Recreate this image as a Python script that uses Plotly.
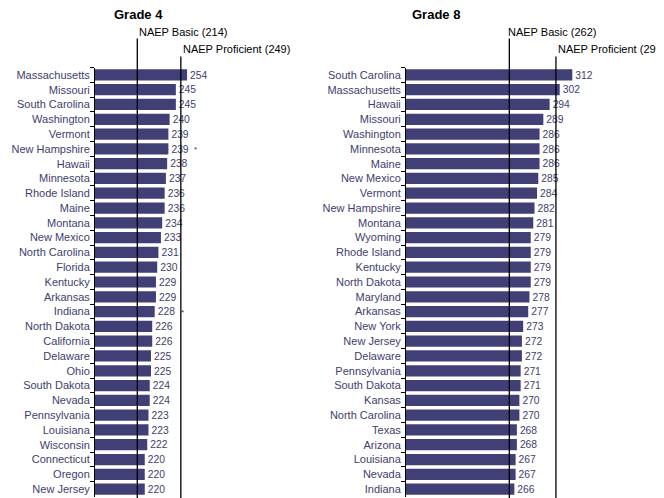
import plotly.graph_objects as go

grade4_states = ["Massachusetts", "Missouri", "South Carolina", "Washington", "Vermont",
                 "New Hampshire", "Hawaii", "Minnesota", "Rhode Island", "Maine", "Montana",
                 "New Mexico", "North Carolina", "Florida", "Kentucky", "Arkansas", "Indiana",
                 "North Dakota", "California", "Delaware", "Ohio", "South Dakota", "Nevada",
                 "Pennsylvania", "Louisiana", "Wisconsin", "Connecticut", "Oregon", "New Jersey"]
grade4_scores = [254, 245, 245, 240, 239, 239, 238, 237, 236, 236, 234, 233, 231, 230, 229,
                 229, 228, 226, 226, 225, 225, 224, 224, 223, 223, 222, 220, 220, 220]

grade8_states = ["South Carolina", "Massachusetts", "Hawaii", "Missouri", "Washington",
                 "Minnesota", "Maine", "New Mexico", "Vermont", "New Hampshire", "Montana",
                 "Wyoming", "Rhode Island", "Kentucky", "North Dakota", "Maryland", "Arkansas",
                 "New York", "New Jersey", "Delaware", "Pennsylvania", "South Dakota", "Kansas",
                 "North Carolina", "Texas", "Arizona", "Louisiana", "Nevada", "Indiana"]
grade8_scores = [312, 302, 294, 289, 286, 286, 286, 285, 284, 282, 281, 279, 279, 279, 279,
                 278, 277, 273, 272, 272, 271, 271, 270, 270, 268, 268, 267, 267, 266]

grade4_basic, grade4_proficient = 214, 249
grade8_basic, grade8_proficient = 262, 299
grade4_notes = {"New Hampshire": "*", "Indiana": "*"}

# the page places the plot 8px in from the top-left corner
OFF = 8
W, H = 664 - OFF, 498 - OFF
BAR = "#404077"
TXT = "#3e3e6c"
FONT = "Liberation Sans, Arial, sans-serif"

def px(v):  # page pixel x -> paper fraction
    return (v - OFF) / W

def py(v):  # page pixel y (from top) -> paper fraction
    return (H - (v - OFF)) / H

fig = go.Figure()
fig.add_trace(go.Bar(x=grade4_scores, y=grade4_states, orientation="h", xaxis="x", yaxis="y",
                     marker=dict(color=BAR, line=dict(width=0)), width=0.76,
                     text=[str(v) for v in grade4_scores], textposition="outside",
                     textfont=dict(size=11, color=TXT, family=FONT), cliponaxis=False,
                     hoverinfo="skip"))
fig.add_trace(go.Bar(x=grade8_scores, y=grade8_states, orientation="h", xaxis="x2", yaxis="y2",
                     marker=dict(color=BAR, line=dict(width=0)), width=0.76,
                     text=[str(v) for v in grade8_scores], textposition="outside",
                     textfont=dict(size=11, color=TXT, family=FONT), cliponaxis=False,
                     hoverinfo="skip"))

ydom = [py(496.5), py(67.5)]
g4_x0, g4_scale = 95, 1.244
g8_x0, g8_scale = 406, 1.26
g4_x1, g8_x1 = 300, 664
xmin = 180

yax = dict(domain=ydom, type="category", autorange="reversed", showline=True,
           linecolor="black", linewidth=1, ticks="outside", ticklen=4, tickcolor="black",
           tickwidth=1, tickson="boundaries", showgrid=False, zeroline=False,
           ticklabelstandoff=2,
           automargin=False, tickfont=dict(size=11, color=TXT, family=FONT))

fig.update_layout(
    width=W, height=H, margin=dict(l=0, r=0, t=0, b=0, autoexpand=False),
    paper_bgcolor="white", plot_bgcolor="white", showlegend=False,
    bargap=0.24,
    xaxis=dict(domain=[px(g4_x0), px(g4_x1)], range=[xmin, xmin + (g4_x1 - g4_x0) / g4_scale],
               visible=False, anchor="y", automargin=False),
    yaxis=dict(anchor="x", **yax),
    xaxis2=dict(domain=[px(g8_x0), px(g8_x1)], range=[xmin, xmin + (g8_x1 - g8_x0) / g8_scale],
                visible=False, anchor="y2", automargin=False),
    yaxis2=dict(anchor="x2", **yax),
)

shapes = []
annos = []
for xr, basic, prof, bshift in [("x", grade4_basic, grade4_proficient, 0),
                                ("x2", grade8_basic, grade8_proficient, -3)]:
    shapes.append(dict(type="line", xref=xr, yref="paper", x0=basic, x1=basic,
                       y0=0, y1=py(38.5), line=dict(color="black", width=1.3), layer="above"))
    shapes.append(dict(type="line", xref=xr, yref="paper", x0=prof, x1=prof,
                       y0=0, y1=py(56.5), line=dict(color="black", width=1.3), layer="above"))
    annos.append(dict(xref=xr, yref="paper", x=basic, y=py(32), xanchor="left", yanchor="middle",
                      text=f"NAEP Basic ({basic})", showarrow=False, xshift=bshift,
                      font=dict(size=11, color="black", family=FONT)))
    annos.append(dict(xref=xr, yref="paper", x=prof, y=py(49), xanchor="left", yanchor="middle",
                      text=f"NAEP Proficient ({prof})", showarrow=False, xshift=0,
                      font=dict(size=11, color="black", family=FONT)))

annos.append(dict(xref="paper", yref="paper", x=px(138), y=py(14), xanchor="center",
                  yanchor="middle", text="<b>Grade 4</b>", showarrow=False,
                  font=dict(size=13, color="black", family=FONT)))
annos.append(dict(xref="paper", yref="paper", x=px(436), y=py(14), xanchor="center",
                  yanchor="middle", text="<b>Grade 8</b>", showarrow=False,
                  font=dict(size=13, color="black", family=FONT)))

for st, mark in grade4_notes.items():
    v = grade4_scores[grade4_states.index(st)]
    annos.append(dict(xref="x", yref="y", x=v, y=st, xanchor="left", yanchor="middle",
                      text=mark, showarrow=False, xshift=24, yshift=-1,
                      font=dict(size=8, color="#333333", family=FONT)))

fig.update_layout(shapes=shapes, annotations=annos)
fig.write_html("out.html")
